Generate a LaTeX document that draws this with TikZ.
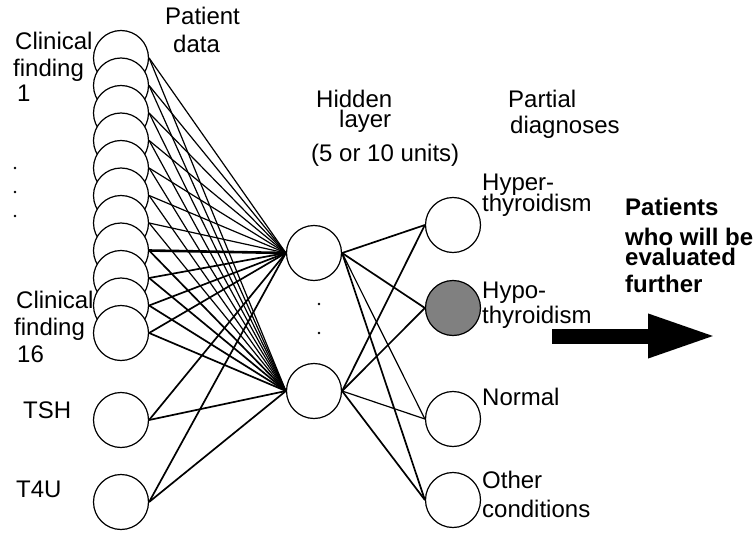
\documentclass[tikz,border=0pt]{standalone}
\usepackage{fontspec}
\setmainfont{Liberation Sans}
\usetikzlibrary{arrows.meta}
\begin{document}
\begin{tikzpicture}[x=1pt,y=-1pt,
  unit/.style={circle,draw,fill=white,minimum size=55pt,inner sep=0pt,line width=1.2pt},
  txt/.style={anchor=base west,inner sep=0pt,font=\fontsize{24}{28}\selectfont},
  btxt/.style={txt,font=\fontsize{24}{28}\selectfont\bfseries},
  wire/.style={line width=1.2pt},
  boldwire/.style={line width=1.7pt},
  heavywire/.style={line width=2.6pt}]
\useasboundingbox (0,0) rectangle (756,535);

% input layer: overlapping stack of clinical findings, then TSH and T4U
\foreach \i in {1,...,11}
  \node[unit] (in\i) at (121,{58+27.5*(\i-1)}) {};
\node[unit] (tsh) at (121,420) {};
\node[unit] (t4u) at (121,502) {};

% hidden layer
\node[unit] (h1) at (314,253) {};
\node[unit] (h2) at (314,391) {};
\fill (319,304) circle (1.3pt) (319,333) circle (1.3pt);

% output layer (partial diagnoses)
\node[unit] (o1) at (453,225) {};
\node[unit,fill=black!50] (o2) at (453,308) {};
\node[unit] (o3) at (453,419) {};
\node[unit] (o4) at (453,500) {};

% input -> hidden connections
\foreach \i in {1,...,7}
  \foreach \h in {h1,h2}
    \draw[wire] (in\i.east) -- (\h.west);
\draw[heavywire] (in8.east) -- (h1.west);
\draw[boldwire] (in8.east) -- (h2.west);
\foreach \i in {9,10,11}
  \foreach \h in {h1,h2}
    \draw[boldwire] (in\i.east) -- (\h.west);
\foreach \n in {tsh,t4u}
  \foreach \h in {h1,h2}
    \draw[boldwire] (\n.east) -- (\h.west);

% hidden -> output connections
\draw[boldwire] (h1.east) -- (o1.west);
\draw[boldwire] (h1.east) -- (o2.west);
\draw[wire] (h1.east) -- (o3.west);
\draw[boldwire] (h1.east) -- (o4.west);
\draw[boldwire] (h2.east) -- (o1.west);
\draw[boldwire] (h2.east) -- (o2.west);
\draw[wire] (h2.east) -- (o3.west);
\draw[boldwire] (h2.east) -- (o4.west);

% labels of the input layer
\node[txt] (tPat1) at (165,25) {Patient};
\node[txt] (tPat2) at (173,53) {data};
\node[txt] (tCf1a) at (15,50) {Clinical};
\node[txt] (tCf1b) at (13,77) {finding};
\node[txt] (tCf1c) at (17,102) {1};
\fill (15,168) circle (1.3pt) (15,192) circle (1.3pt) (15,216) circle (1.3pt);
\node[txt] (tCf16a) at (16,308) {Clinical};
\node[txt] (tCf16b) at (14,335) {finding};
\node[txt] (tCf16c) at (17,362) {16};
\node[txt] (tTsh) at (23,418) {TSH};
\node[txt] (tT4u) at (16,497) {T4U};

% labels of the hidden layer
\node[txt] (tHid1) at (316,107) {Hidden};
\node[txt] (tHid2) at (339,128) {layer};
\node[txt] (tHid3) at (311,161) {(5 or 10 units)};

% labels of the output layer
\node[txt] (tPd1) at (508,107) {Partial};
\node[txt] (tPd2) at (510,133) {diagnoses};
\node[txt] (tO1a) at (482,190) {Hyper-};
\node[txt] (tO1b) at (482,211) {thyroidism};
\node[txt] (tO2a) at (482,298) {Hypo-};
\node[txt] (tO2b) at (482,323) {thyroidism};
\node[txt] (tO3) at (482,405) {Normal};
\node[txt] (tO4a) at (482,488) {Other};
\node[txt] (tO4b) at (482,517) {conditions};

% patients referred for further evaluation
\node[btxt] (tEv1) at (625,215) {Patients};
\node[btxt] (tEv2) at (625,245) {who will be};
\node[btxt] (tEv3) at (625,265) {evaluated};
\node[btxt] (tEv4) at (625,292) {further};
\coordinate (arrStart) at (552,336);
\coordinate (arrEnd) at (717,336);
\draw[line width=15pt,-{Triangle[length=69pt,width=40pt]}] (arrStart) -- (arrEnd);
\end{tikzpicture}
\end{document}
